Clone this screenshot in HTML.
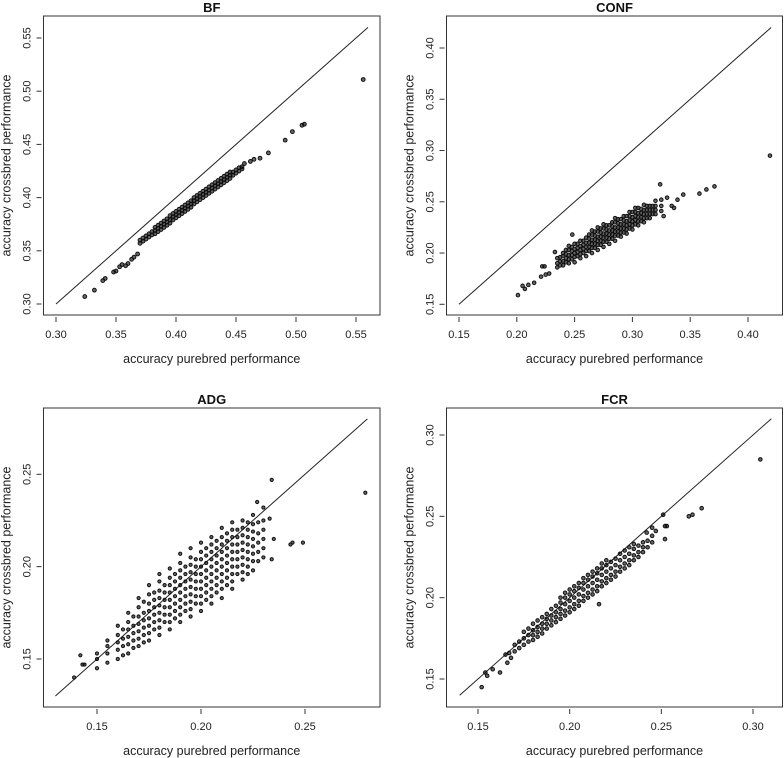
<!DOCTYPE html>
<html><head><meta charset="utf-8">
<style>
html,body{margin:0;padding:0;background:#fff;}
svg{display:block;font-family:"Liberation Sans",Arial,sans-serif;}
</style></head>
<body>
<svg id="chart" width="784" height="758" viewBox="0 0 784 758" xmlns="http://www.w3.org/2000/svg"></svg>
<script>
// ---------- DATA ----------
const bfColX = [0.370,0.3725,0.375,0.3775,0.380,0.3825,0.385,0.3875,0.390,0.3925,0.395,0.3975,0.400,0.4025,0.405,0.4075,0.410,0.4125,0.415,0.4175,0.420,0.4225,0.425,0.4275,0.430,0.4325,0.435,0.4375,0.440,0.4425,0.445,0.4475,0.450,0.4525,0.455];
const bfColY = [[.357,.360],[.359,.362],[.361,.364],[.363,.366],[.365,.368],[.366,.369,.372],[.368,.371,.374],[.370,.373,.376],[.372,.375,.378],[.374,.377,.380],[.376,.379,.383],[.379,.382,.385],[.381,.384,.387],[.383,.386,.389],[.385,.388,.391],[.387,.390,.393],[.389,.392,.395],[.391,.394,.397],[.394,.397,.400],[.396,.399,.402],[.398,.401,.404],[.400,.403,.406],[.402,.405,.408],[.404,.407,.410],[.406,.409,.412],[.408,.411,.414],[.410,.413,.416],[.412,.415,.418],[.414,.417,.420],[.416,.419,.422],[.418,.421,.424],[.421,.424],[.423,.426],[.425,.428],[.427,.429]];
const bfOutX = [0.324,0.332,0.339,0.341,0.348,0.350,0.353,0.355,0.358,0.360,0.363,0.365,0.368,0.457,0.462,0.465,0.470,0.477,0.491,0.497,0.505,0.507,0.556];
const bfOutY = [0.307,0.313,0.322,0.324,0.330,0.331,0.335,0.337,0.336,0.338,0.342,0.344,0.347,0.432,0.434,0.436,0.437,0.442,0.454,0.462,0.468,0.469,0.511];

const confColX = [0.235,0.240,0.245,0.250,0.255,0.260,0.265,0.270,0.275,0.280,0.285,0.290,0.295,0.300,0.305,0.310,0.315,0.320,0.325,0.2375,0.2425,0.2475,0.2525,0.2575,0.2625,0.2675,0.2725,0.2775,0.2825,0.2875,0.2925,0.2975,0.3025,0.3075,0.3125,0.3175];
const confColY = [[.186,.190,.195],[.188,.192,.197,.200],[.190,.194,.198,.203,.207],[.191,.196,.200,.204,.209],[.195,.199,.203,.207,.212],[.197,.202,.206,.210,.215],[.200,.205,.209,.213,.218,.222],[.203,.208,.212,.216,.221,.225],[.206,.211,.215,.219,.224,.228],[.209,.214,.218,.222,.227],[.212,.217,.221,.225,.230,.234],[.216,.220,.224,.228,.233],[.219,.223,.227,.231,.236],[.223,.227,.231,.235,.240],[.227,.231,.235,.239,.244],[.230,.234,.238,.242,.247],[.234,.238,.242,.246],[.238,.242,.246,.251],[.241,.246,.252],[.188,.192,.196],[.191,.195,.199,.203],[.194,.198,.202,.206],[.197,.201,.205,.209],[.200,.204,.208,.212],[.202,.206,.210,.214,.218],[.205,.209,.213,.217,.221],[.208,.212,.216,.220,.224],[.211,.215,.219,.223,.227],[.214,.218,.222,.226,.230],[.217,.221,.225,.229,.233],[.220,.224,.228,.232,.236],[.224,.228,.232,.236,.240],[.228,.232,.236,.240,.244],[.231,.235,.239,.243],[.234,.238,.242,.246],[.238,.242,.246]];
const confOutX = [0.201,0.205,0.207,0.210,0.215,0.221,0.222,0.224,0.225,0.228,0.233,0.248,0.324,0.327,0.330,0.334,0.336,0.339,0.344,0.358,0.364,0.371,0.419];
const confOutY = [0.159,0.168,0.165,0.169,0.171,0.177,0.187,0.187,0.179,0.180,0.201,0.218,0.267,0.236,0.254,0.246,0.244,0.252,0.257,0.258,0.262,0.265,0.295];

const adgColX = [0.150,0.155,0.160,0.165,0.170,0.175,0.180,0.185,0.190,0.195,0.200,0.205,0.210,0.215,0.220,0.225,0.230,0.1775,0.1825,0.1875,0.1925,0.1975,0.2025,0.2075,0.2125,0.2175,0.1625,0.1675,0.1725,0.2225,0.2275];
const adgColY = [[.145,.150,.153],[.148,.153,.157,.160],[.150,.155,.159,.163,.168],[.153,.158,.162,.166,.170,.175],[.157,.161,.165,.169,.173,.178,.183],[.160,.164,.168,.172,.176,.180,.185,.190],[.163,.167,.171,.175,.179,.183,.187,.192,.196],[.166,.170,.174,.178,.182,.186,.190,.194,.199],[.170,.174,.178,.182,.186,.190,.194,.198,.202,.207],[.173,.177,.181,.185,.189,.193,.197,.201,.205,.210],[.176,.180,.184,.188,.192,.196,.200,.204,.208,.213],[.180,.184,.188,.192,.196,.200,.204,.208,.212,.216],[.183,.188,.192,.196,.200,.204,.208,.212,.216,.221],[.188,.192,.196,.200,.204,.208,.212,.216,.220,.224],[.193,.197,.201,.205,.209,.213,.217,.221,.225],[.198,.203,.207,.211,.215,.219,.223,.228],[.205,.210,.215,.220,.225,.232],[.166,.170,.174,.178,.182,.186],[.170,.174,.178,.182,.186,.190],[.172,.176,.180,.184,.188,.192,.196],[.176,.180,.184,.188,.192,.196,.200],[.180,.184,.188,.192,.196,.200,.204],[.182,.186,.190,.194,.198,.202,.206,.210],[.186,.190,.194,.198,.202,.206,.210,.214],[.190,.194,.198,.202,.206,.210,.214,.218],[.196,.200,.204,.208,.212,.216,.220],[.152,.157,.161,.166],[.156,.160,.164,.168,.173],[.159,.163,.167,.171,.175,.181],[.196,.200,.204,.208,.212,.216,.220,.224],[.203,.208,.213,.218,.224]];
const adgOutX = [0.139,0.142,0.143,0.144,0.234,0.234,0.235,0.243,0.244,0.249,0.279,0.233,0.227];
const adgOutY = [0.140,0.152,0.147,0.147,0.247,0.204,0.215,0.212,0.213,0.213,0.240,0.226,0.235];

const fcrColX = [0.170,0.1725,0.175,0.1775,0.180,0.1825,0.185,0.1875,0.190,0.1925,0.195,0.1975,0.200,0.2025,0.205,0.2075,0.210,0.2125,0.215,0.2175,0.220,0.2225,0.225,0.2275,0.230,0.2325,0.235,0.2375,0.240,0.2425,0.245];
const fcrColY = [[.167,.171],[.169,.173],[.171,.175,.179],[.173,.177,.181],[.174,.177,.180,.184],[.176,.179,.182,.186],[.178,.181,.184,.188],[.181,.184,.187,.190],[.183,.186,.189,.193],[.185,.188,.191,.195],[.187,.190,.193,.197,.200],[.189,.192,.196,.200,.203],[.191,.194,.198,.202,.205],[.193,.196,.200,.204,.207],[.195,.198,.202,.206,.209],[.198,.201,.205,.209,.212],[.200,.203,.207,.211,.214],[.202,.205,.209,.213,.216],[.204,.207,.211,.215,.218],[.207,.210,.214,.218,.221],[.209,.212,.216,.220,.223],[.211,.214,.218,.222],[.213,.216,.220,.224],[.216,.219,.223,.227],[.218,.221,.225,.229],[.220,.223,.227,.231],[.223,.226,.230,.233],[.225,.228,.232],[.228,.231,.234],[.231,.235],[.234,.238]];
const fcrOutX = [0.152,0.154,0.155,0.158,0.162,0.165,0.167,0.166,0.168,0.216,0.242,0.245,0.247,0.251,0.252,0.252,0.253,0.265,0.267,0.272,0.304];
const fcrOutY = [0.145,0.154,0.152,0.156,0.154,0.165,0.166,0.160,0.163,0.196,0.240,0.243,0.241,0.251,0.244,0.236,0.244,0.250,0.251,0.255,0.285];

const bfTicks = [0.30,0.35,0.40,0.45,0.50,0.55];
const confTicks = [0.15,0.20,0.25,0.30,0.35,0.40];
const adgTicks = [0.15,0.20,0.25];
const fcrTicks = [0.15,0.20,0.25,0.30];
const tickLabels = {0.15:"0.15",0.2:"0.20",0.25:"0.25",0.3:"0.30",0.35:"0.35",0.4:"0.40",0.45:"0.45",0.5:"0.50",0.55:"0.55"};

// ---------- DRAW ----------
const NS = "http://www.w3.org/2000/svg";
const svg = document.getElementById("chart");
function mk(tag, attrs, parent){
  const e = document.createElementNS(NS, tag);
  for (const k in attrs) e.setAttribute(k, attrs[k]);
  (parent||svg).appendChild(e);
  return e;
}
function lin(v0,p0,v1,p1){ return v => p0 + (v - v0) * (p1 - p0) / (v1 - v0); }

function panel(cfg){
  const g = mk("g", {});
  
  
  const sx = lin(cfg.xa[0], cfg.xa[1], cfg.xa[2], cfg.xa[3]);
  const sy = lin(cfg.ya[0], cfg.ya[1], cfg.ya[2], cfg.ya[3]);
  const [l,t,r,b] = cfg.box;
  const box = mk("rect", {x:l, y:t, width:r-l, height:b-t, fill:"none", stroke:"#333", "stroke-width":1}, g);
  
  
  const title = mk("text", {x:(l+r)/2, y:t-4, "text-anchor":"middle", "font-size":13, "font-weight":"bold", fill:"#111"}, g);
  title.textContent = cfg.name.toUpperCase();
  
  
  const xax = mk("g", {}, g);
  
  
  cfg.ticks.forEach(v => {
    const x = sx(v);
    mk("line", {x1:x, x2:x, y1:b+2, y2:b+7, stroke:"#333", "stroke-width":1}, xax);
    const tx = mk("text", {x:x, y:b+23, "text-anchor":"middle", "font-size":11, fill:"#222"}, xax);
    tx.textContent = tickLabels[Math.round(v*100)/100];
    
    
  });
  const xt = mk("text", {x:(l+r)/2, y:b+48, "text-anchor":"middle", "font-size":12.5, fill:"#222"}, g);
  xt.textContent = "accuracy purebred performance";
  
  
  const yax = mk("g", {}, g);
  
  
  cfg.ticks.forEach(v => {
    const y = sy(v);
    mk("line", {x1:l-7, x2:l-2, y1:y, y2:y, stroke:"#333", "stroke-width":1}, yax);
    const tx = mk("text", {x:l-13, y:y, "text-anchor":"middle", "font-size":11, fill:"#222", transform:`rotate(-90 ${l-13} ${y})`}, yax);
    tx.textContent = tickLabels[Math.round(v*100)/100];
    
    
  });
  const yx = l-33, ym = (t+b)/2;
  const yt = mk("text", {x:yx, y:ym, "text-anchor":"middle", "font-size":12.5, fill:"#222", transform:`rotate(-90 ${yx} ${ym})`}, g);
  yt.textContent = "accuracy crossbred performance";
  
  
  const ln = mk("line", {x1:sx(cfg.line[0]), y1:sy(cfg.line[0]), x2:sx(cfg.line[1]), y2:sy(cfg.line[1]), stroke:"#222", "stroke-width":1}, g);
  
  
  const pts = mk("g", {fill:"rgba(0,0,0,0.6)", stroke:"#111", "stroke-width":1}, g);
  
  
  function dot(xv, yv){
    const c = mk("circle", {cx:sx(xv), cy:sy(yv), r:cfg.r}, pts);
    
    
  }
  cfg.colX.forEach((xv,i) => cfg.colY[i].forEach(yv => dot(xv, yv)));
  cfg.outX.forEach((xv,i) => dot(xv, cfg.outY[i]));
}

panel({name:"bf", r:1.9, box:[43.5,16,380,315], xa:[0.30,56,0.55,356], ya:[0.30,304,0.55,38], ticks:bfTicks, line:[0.30,0.56], colX:bfColX, colY:bfColY, outX:bfOutX, outY:bfOutY});
panel({name:"conf", r:1.8, box:[446.5,16,782.5,315], xa:[0.15,459,0.40,748], ya:[0.15,304.3,0.40,48], ticks:confTicks, line:[0.15,0.42], colX:confColX, colY:confColY, outX:confOutX, outY:confOutY});
panel({name:"adg", r:1.6, box:[43.5,408,380,707], xa:[0.15,97,0.25,305], ya:[0.15,659,0.25,474.3], ticks:adgTicks, line:[0.13,0.28], colX:adgColX, colY:adgColY, outX:adgOutX, outY:adgOutY});
panel({name:"fcr", r:1.8, box:[446.5,408,782.5,707], xa:[0.15,478,0.30,753], ya:[0.15,679,0.30,435], ticks:fcrTicks, line:[0.14,0.31], colX:fcrColX, colY:fcrColY, outX:fcrOutX, outY:fcrOutY});
</script>
</body></html>
